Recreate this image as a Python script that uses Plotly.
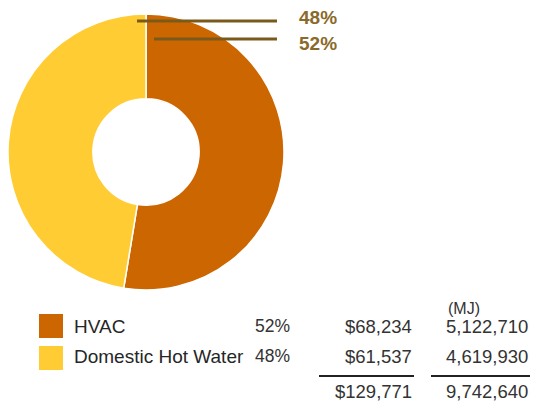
import plotly.graph_objects as go

categories = ["HVAC", "Domestic Hot Water"]
percent_labels = ["52%", "48%"]
costs = [68234, 61537]
energy_mj = [5122710, 4619930]
total_cost = 129771
total_mj = 9742640
colors = ["#CC6600", "#FFCC33"]

W, H = 534, 403
def px(x):
    return x / W
def py(y):
    return 1 - y / H

fig = go.Figure()
fig.add_trace(go.Pie(
    labels=categories, values=energy_mj, sort=False, direction="clockwise", rotation=0,
    hole=0.385, marker=dict(colors=colors, line=dict(color="white", width=1.5)),
    textinfo="none", showlegend=False, hoverinfo="label+percent",
    domain=dict(x=[px(8), px(284)], y=[py(290), py(14)]),
))

font = "Liberation Sans, Arial, sans-serif"
NUM = 18.5
ann = []
shapes = []
# leader lines + labels (top)
lead = [(percent_labels[1], 137, 21, 18), (percent_labels[0], 154, 39, 43)]
for lab, x0, ly, ty in lead:
    shapes.append(dict(type="line", xref="paper", yref="paper", x0=px(x0), x1=px(277),
                       y0=py(ly), y1=py(ly), line=dict(color="#7A5A1A", width=3)))
    ann.append(dict(text=f"<b>{lab}</b>", x=px(297), y=py(ty), xanchor="left", yanchor="middle",
                    showarrow=False, font=dict(family=font, size=19, color="#8A6A2A")))

rows_y = [326, 356]
sq = [(314, 338), (346, 370)]
for i, cat in enumerate(categories):
    shapes.append(dict(type="rect", xref="paper", yref="paper", x0=px(39), x1=px(63),
                       y0=py(sq[i][1]), y1=py(sq[i][0]), fillcolor=colors[i], line=dict(width=0)))
    ann.append(dict(text=cat, x=px(72), y=py(rows_y[i]), xanchor="left", yanchor="middle",
                    showarrow=False, font=dict(family=font, size=19, color="#262626")))
    ann.append(dict(text=percent_labels[i], x=px(292), y=py(rows_y[i]), xanchor="right", yanchor="middle",
                    showarrow=False, font=dict(family=font, size=17.5, color="#333333")))
    ann.append(dict(text=f"${costs[i]:,}", x=px(414), y=py(rows_y[i]), xanchor="right", yanchor="middle",
                    showarrow=False, font=dict(family=font, size=NUM, color="#333333")))
    ann.append(dict(text=f"{energy_mj[i]:,}", x=px(530), y=py(rows_y[i]), xanchor="right", yanchor="middle",
                    showarrow=False, font=dict(family=font, size=NUM, color="#333333")))

ann.append(dict(text="(MJ)", x=px(446), y=py(308), xanchor="left", yanchor="middle",
                showarrow=False, font=dict(family=font, size=16, color="#333333")))
shapes.append(dict(type="line", xref="paper", yref="paper", x0=px(319), x1=px(414),
                   y0=py(376), y1=py(376), line=dict(color="#222222", width=2)))
shapes.append(dict(type="line", xref="paper", yref="paper", x0=px(431), x1=px(530),
                   y0=py(376), y1=py(376), line=dict(color="#222222", width=2)))
ann.append(dict(text=f"${total_cost:,}", x=px(414), y=py(391), xanchor="right", yanchor="middle",
                showarrow=False, font=dict(family=font, size=NUM, color="#333333")))
ann.append(dict(text=f"{total_mj:,}", x=px(530), y=py(391), xanchor="right", yanchor="middle",
                showarrow=False, font=dict(family=font, size=NUM, color="#333333")))

fig.update_layout(width=W, height=H, margin=dict(l=0, r=0, t=0, b=0),
                  paper_bgcolor="white", plot_bgcolor="white",
                  annotations=ann, shapes=shapes)
fig.write_html("out.html")
